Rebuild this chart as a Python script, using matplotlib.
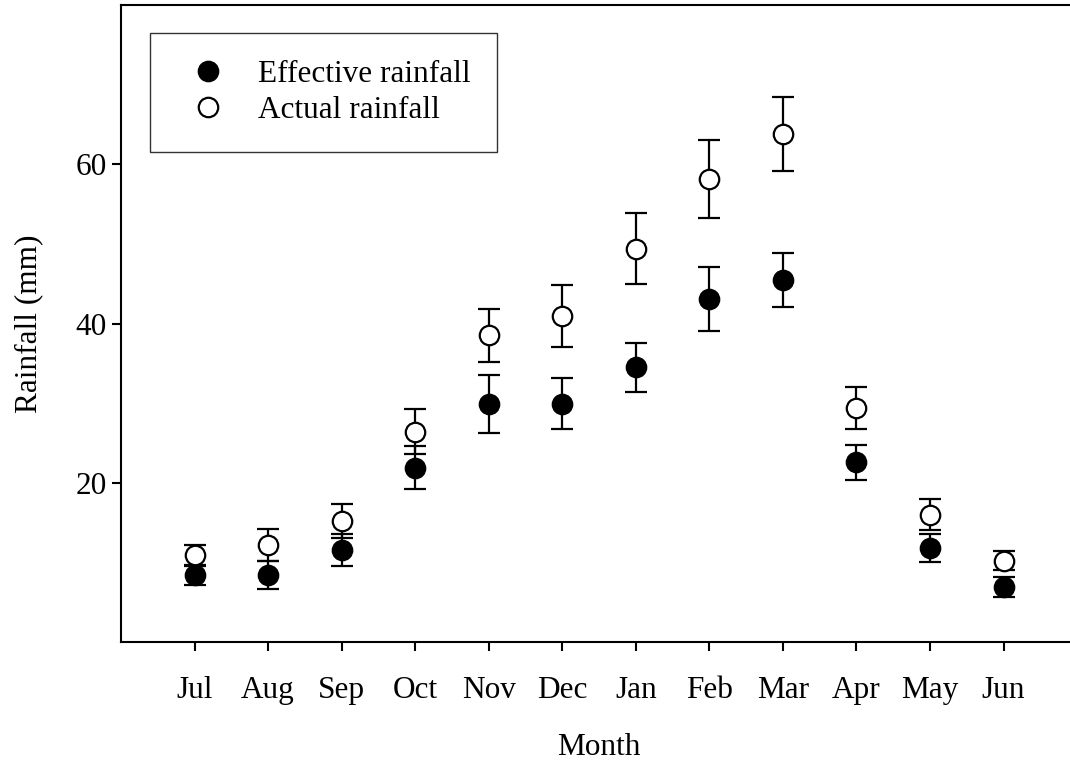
import numpy as np
import matplotlib.pyplot as plt

plt.rcParams['font.family'] = ['Liberation Serif', 'DejaVu Serif']
plt.rcParams['font.size'] = 22.5

'''monthly rainfall, mean and error'''
months = ['Jul', 'Aug', 'Sep', 'Oct', 'Nov', 'Dec', 'Jan', 'Feb', 'Mar', 'Apr', 'May', 'Jun']
effective = [8.4, 8.4, 11.5, 21.9, 29.9, 29.9, 34.5, 43.1, 45.5, 22.6, 11.8, 6.9]
effective_err = [1.3, 1.8, 2.0, 2.7, 3.6, 3.2, 3.1, 4.0, 3.4, 2.2, 1.7, 1.2]
actual = [10.9, 12.2, 15.2, 26.4, 38.5, 40.9, 49.4, 58.2, 63.8, 29.4, 16.0, 10.2]
actual_err = [1.3, 2.0, 2.1, 2.8, 3.3, 3.9, 4.5, 4.9, 4.7, 2.6, 1.9, 1.2]

x = np.arange(1, len(months) + 1)

fig = plt.figure(figsize=(10.7, 7.61), dpi=100)
ax = fig.add_axes([0.1131, 0.1564, 0.8935, 0.837])

ax.errorbar(x, effective, yerr=effective_err, fmt='o', color='black',
            mfc='black', mec='black', ms=14, mew=1.6, elinewidth=1.6,
            capsize=8, capthick=1.6, label='Effective rainfall')
ax.errorbar(x, actual, yerr=actual_err, fmt='o', color='black',
            mfc='white', mec='black', ms=14, mew=1.6, elinewidth=1.6,
            capsize=8, capthick=1.6, label='Actual rainfall')

ax.set_xlim(0, 13)
ax.set_ylim(0, 80)
ax.set_xticks(x)
ax.set_xticklabels(months)
ax.set_yticks([20, 40, 60])
ax.tick_params(direction='out', length=6.5, width=1.5)
ax.tick_params(axis='x', pad=18)
ax.tick_params(axis='y', pad=4)
for s in ax.spines.values():
    s.set_linewidth(1.5)

ax.set_xlabel('Month', labelpad=20)
ax.set_ylabel('Rainfall (mm)', labelpad=23)

handles, labels = ax.get_legend_handles_labels()
handles = [h[0] for h in handles]
leg = ax.legend(handles, labels, loc='upper left', bbox_to_anchor=(0.0303, 0.956),
                borderaxespad=0, frameon=True, fancybox=False, numpoints=1,
                handlelength=2.0, handletextpad=0.6, borderpad=0.85,
                labelspacing=0.25)
leg.get_frame().set_edgecolor('black')
leg.get_frame().set_linewidth(1.0)

plt.savefig('out.png', dpi=100)
